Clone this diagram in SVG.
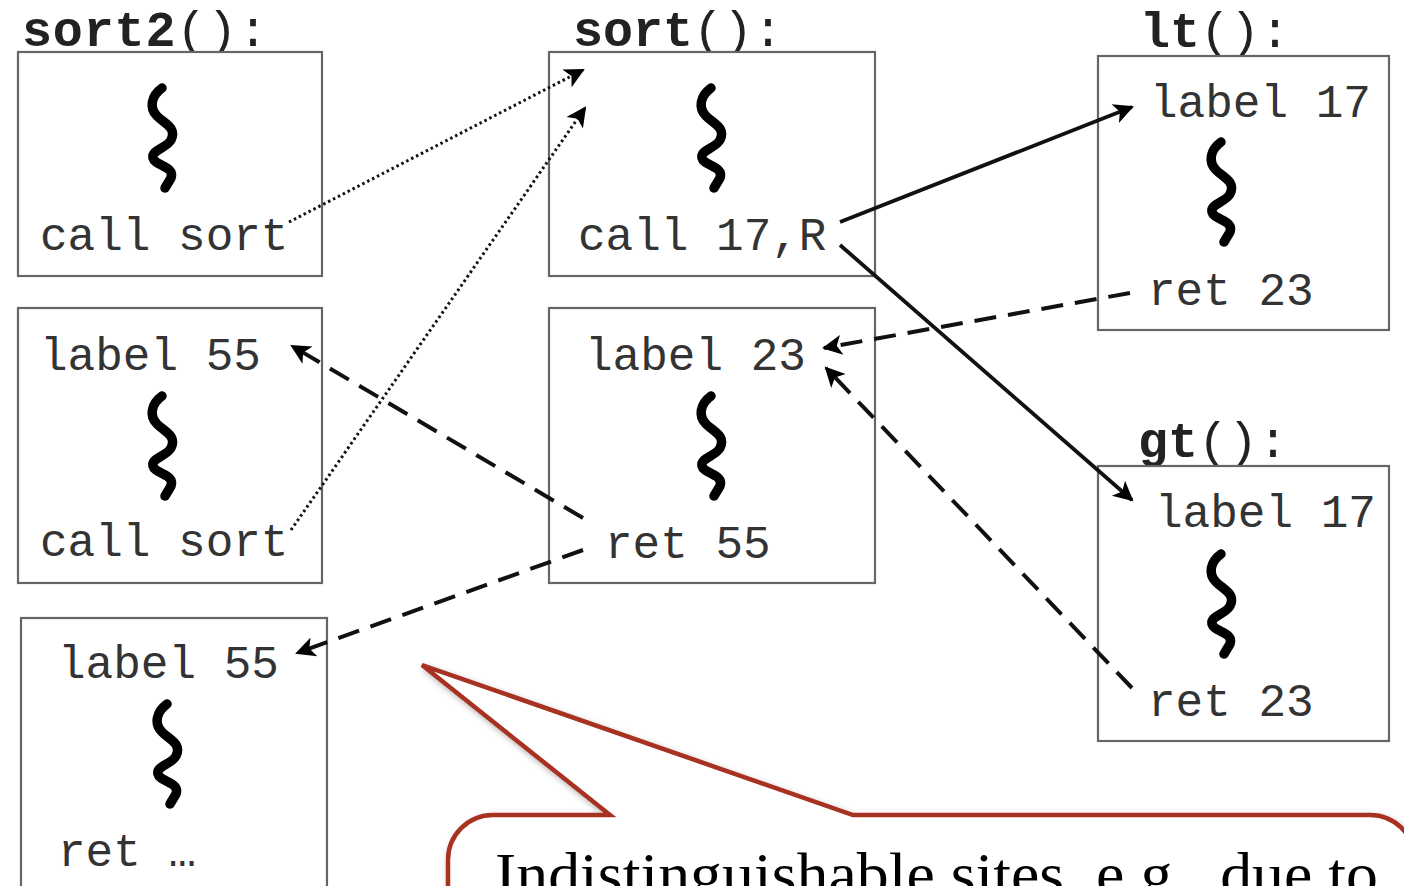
<svg xmlns="http://www.w3.org/2000/svg" width="1404" height="886" viewBox="0 0 1404 886">
<style>
.box{fill:#fff;stroke:#666;stroke-width:2.2}
.t{font-family:"Liberation Mono","Courier New",monospace;font-size:46px;fill:#333}
.h{font-family:"Liberation Mono","Courier New",monospace;font-size:50px;fill:#222;font-weight:bold}
.hr{font-weight:normal}
.sq{fill:none;stroke:#000;stroke-width:9.5;stroke-linecap:round;stroke-linejoin:round}
.dot{fill:none;stroke:#111;stroke-width:3;stroke-dasharray:2.5 3}
.sol{fill:none;stroke:#111;stroke-width:3.8}
.dash{fill:none;stroke:#111;stroke-width:4;stroke-dasharray:22 12}
.callout{fill:#fff;stroke:#a83224;stroke-width:4.5;stroke-linejoin:miter}
.ct{font-family:"Liberation Serif","Times New Roman",serif;font-size:62px;fill:#000}
</style>
<defs>
<marker id="ah" viewBox="0 0 10 10" refX="9" refY="5" markerWidth="24" markerHeight="20" markerUnits="userSpaceOnUse" orient="auto">
<path d="M0,0 L10,5 L0,10 L2.5,5 Z" fill="#000"/>
</marker>
<path id="squig" class="sq" d="M -1,0 C -12,8 -14,20 -6,28 C 2,36 14,40 8,52 C 4,60 -12,62 -10,70 C -8,78 12,78 8,90 L 2,100"/>
<filter id="shadow" x="-5%" y="-20%" width="110%" height="140%">
<feDropShadow dx="2" dy="3" stdDeviation="3" flood-color="#000" flood-opacity="0.3"/>
</filter>
</defs>

<g id="sort2-a">
<text class="h" x="22" y="46" textLength="246">sort2<tspan class="hr">():</tspan></text>
<rect class="box" x="18" y="52" width="304" height="224"/>
<use href="#squig" x="163" y="88"/>
<text class="t" x="40" y="250">call sort</text>
</g>

<g id="sort2-b">
<rect class="box" x="18" y="308" width="304" height="275"/>
<text class="t" x="40" y="370">label 55</text>
<use href="#squig" x="163" y="396"/>
<text class="t" x="40" y="556">call sort</text>
</g>

<g id="sort2-c">
<rect class="box" x="21" y="618" width="306" height="290"/>
<text class="t" x="58" y="678">label 55</text>
<use href="#squig" x="168" y="704"/>
<text class="t" x="58" y="866">ret …</text>
</g>

<g id="sort-a">
<text class="h" x="573" y="46">sort<tspan class="hr">():</tspan></text>
<rect class="box" x="549" y="52" width="326" height="224"/>
<use href="#squig" x="712" y="88"/>
<text class="t" x="578" y="250">call 17,R</text>
</g>

<g id="sort-b">
<rect class="box" x="549" y="308" width="326" height="275"/>
<text class="t" x="585" y="370">label 23</text>
<use href="#squig" x="712" y="396"/>
<text class="t" x="605" y="558">ret 55</text>
</g>

<g id="lt">
<text class="h" x="1140" y="47">lt<tspan class="hr">():</tspan></text>
<rect class="box" x="1098" y="56" width="291" height="274"/>
<text class="t" x="1150" y="117">label 17</text>
<use href="#squig" x="1222" y="142"/>
<text class="t" x="1148" y="305">ret 23</text>
</g>

<g id="gt">
<text class="h" x="1138" y="457">gt<tspan class="hr">():</tspan></text>
<rect class="box" x="1098" y="466" width="291" height="275"/>
<text class="t" x="1155" y="527">label 17</text>
<use href="#squig" x="1222" y="554"/>
<text class="t" x="1148" y="716">ret 23</text>
</g>

<g id="connectors">
<line class="dot" x1="289" y1="222" x2="583" y2="70" marker-end="url(#ah)"/>
<line class="dot" x1="291" y1="530" x2="585" y2="108" marker-end="url(#ah)"/>
<line class="sol" x1="840" y1="222" x2="1132" y2="107" marker-end="url(#ah)"/>
<line class="sol" x1="840" y1="245" x2="1132" y2="500" marker-end="url(#ah)"/>
<line class="dash" x1="1130" y1="293" x2="824" y2="348" marker-end="url(#ah)"/>
<line class="dash" x1="1132" y1="688" x2="826" y2="368" marker-end="url(#ah)"/>
<line class="dash" x1="583" y1="518" x2="292" y2="346" marker-end="url(#ah)"/>
<line class="dash" x1="583" y1="550" x2="297" y2="653" marker-end="url(#ah)"/>
</g>

<g id="callout">
<path class="callout" filter="url(#shadow)" d="M 493,815 L 610,815 L 422,665 L 853,815 L 1370,815 A 45,45 0 0 1 1415,860 L 1415,920 L 448,920 L 448,860 A 45,45 0 0 1 493,815 Z"/>
<text class="ct" x="495" y="895" textLength="883" lengthAdjust="spacingAndGlyphs">Indistinguishable sites, e.g., due to</text>
</g>
</svg>
